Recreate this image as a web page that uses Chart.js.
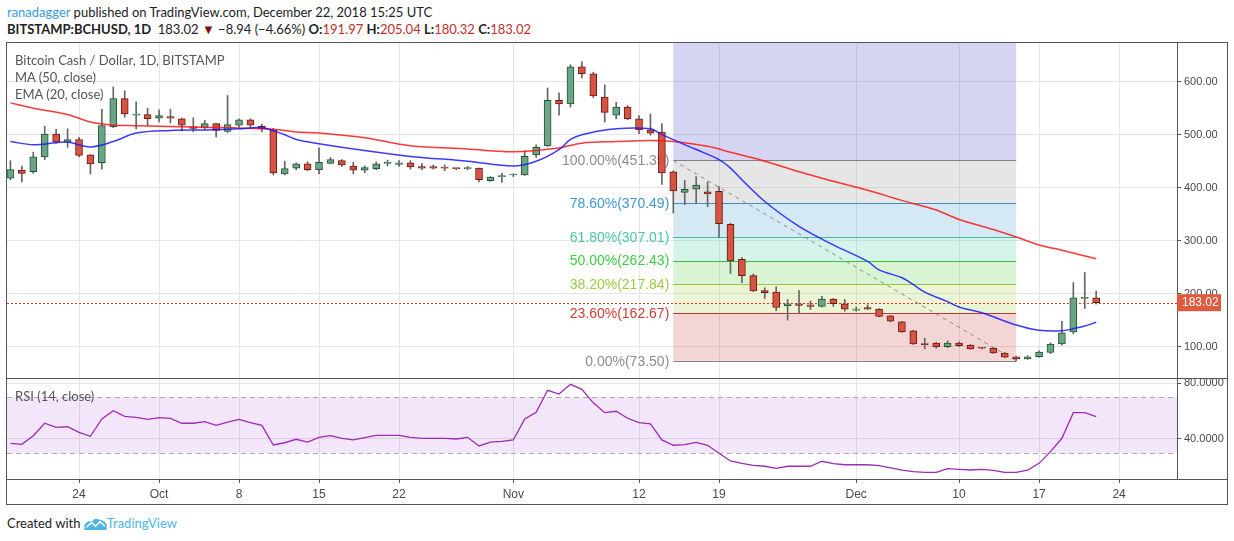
<!DOCTYPE html>
<html>
<head>
<meta charset="utf-8">
<script src="https://cdn.jsdelivr.net/npm/chart.js@4.4.1/dist/chart.umd.min.js"></script>
<style>
    body { margin: 0; width: 1234px; height: 541px; background: #fff; position: relative; overflow: hidden;
           font-family: Lato, "Liberation Sans", Arial, sans-serif; color: #222; }
    .abs { position: absolute; white-space: nowrap; }
    #frame { left: 6px; top: 42px; width: 1222px; height: 463px; box-sizing: border-box; border: 1px solid #555; }
    .sep { height: 1px; background: #555; left: 7px; width: 1220px; }
    .leg { color: #555; font-size: 13px; left: 15px; line-height: 17px; pointer-events: none; }
    .hd { font-size: 13px; left: 7px; line-height: 17px; }
    .red { color: #c0302a; }
    canvas { position: absolute; }
</style>
</head>
<body>
<div class="abs hd" style="top:4px"><span style="color:#3a9be0">ranadagger</span> published on TradingView.com, December 22, 2018 15:25 UTC</div>
<div class="abs hd" style="top:21px"><b>BITSTAMP:BCHUSD, 1D</b>&nbsp; 183.02 <span style="color:#8b0a0a">&#9660;</span> &minus;8.94 (&minus;4.66%) <b>O:</b><span class="red">191.97</span> <b>H:</b><span class="red">205.04</span> <b>L:</b><span class="red">180.32</span> <b>C:</b><span class="red">183.02</span></div>

<div id="frame" class="abs"></div>
<canvas id="mainChart" width="1220" height="335" style="left:7px;top:43px"></canvas>
<div class="abs sep" style="top:378px"></div>
<canvas id="rsiChart" width="1220" height="125" style="left:7px;top:379px"></canvas>
<div class="abs sep" style="top:479px"></div>

<div class="abs leg" style="top:52px">Bitcoin Cash / Dollar, 1D, BITSTAMP</div>
<div class="abs leg" style="top:69px">MA (50, close)</div>
<div class="abs leg" style="top:86px">EMA (20, close)</div>
<div class="abs leg" style="top:388px">RSI (14, close)</div>

<div class="abs" style="left:7px;top:514px;font-size:13px;line-height:18px">Created with
    <svg width="23" height="13" viewBox="0 0 24 14" style="vertical-align:-2px">
        <path d="M0 14 L0 9 Q3 3 8 5 Q11 0 16 3 Q21 3 24 8 L24 14 Z" fill="#4cb6e6"/>
        <path d="M2 11 L8 6 L12 10 L17 5 L22 10" stroke="#fff" stroke-width="1.6" fill="none"/>
    </svg><span style="color:#4cb6e6">TradingView</span></div>

<script>
// 日线 K 线 (2018-09-18 起, 共 96 根)
const opens  = [418,433,430,458,501,486,491,462,447,515,568,537,538,531,534,530,515,513,521,506,518,528,516,509,
                426,437,445,434,446,451,441,433,436,446,444,447,440,440,438,436.5,436,437,413,421,424,424,462,479,
                565,558,628,615,571,537,552,530,509,505,430,391,397,392,393,331,265,234,206,203,177,181,179,176,
                190,181,169,174,171,158,147,130,106,107,100,107,103,98,97,88,81,77,81,89,105,128,191,191.97];
const highs  = [451,441,467,516,510,511,495,462,548,590,583,562,550,547,548,532,532,527,521,574,530,530,520,512,
                450,447,449,475,457,453,448,441,449,452,451,451,446,443,443,437,440,437,421,427,426,470,481,588,
                579,632,638,618,594,561,555,536,539,521,432,414,421,411,402,333,268,237,211,213,189,206,186,195,
                191,189,175,179,172,159,148,131,116,108,111,109,104,99,98,89,82,83,92,107,148,221,240,205.04];
const lows   = [415,411,427,453,484,476,458,426,435,513,533,511,517,524,522,507,506,510,496,504,514,514,505,424,
                424,434,432,426,445,440,426,428,434,441,440,435,434,435,432,434,434,411,412,410,421,423,457,478,
                537,552,607,570,524,530,528,502,499,406,352,368,371,364,306,238,221,204,191,168,150,164,170,175,
                176,167,167,170,156,147,127,104,96,97,98,100,95,96,87,79,73.5,76,80,87,103,124,172,180.32];
const closes = [434,427,458,501,486,491,461,445,517,568,539,539,530,536,531,518,512,521,508,519,528,518,511,428,
                436,445,434,448,453,443,433,438,445,447,447,439,437,437,437,436,438,415,420,422,425,459,476,565,
                558,628,615,573,542,552,530,509,503,428,394,397,405,388,332,262,234,205,202,174,181,178,176,190,
                181,171,171,171,157,148,128,105,104,100,107,102,96,97,88,80,77,81,90,105,126,192,192,183.02];

// MA(50) / EMA(20) 曲线读数 (K 线序号, 价格)
const maIdx  = [0,2,5,7,9,11,17,22,24,25,27,31,35,40,44,48,50,53,56,58,61,63,66,69,72,75,78,81,83,86,88,90,92,95];
const maVal  = [560,550,538,524,518,517,514,511,508,505,503,494,479,473,468,475,484,487,489,487,478,467,450,430,
                412,395,376,358,340,321,307,292,282,266];
const emaIdx = [0,2,4,5,7,9,11,14,17,20,22,24,25,27,31,35,40,44,46,48,49,50,53,56,57,60,62,63,64,66,69,72,75,76,
                78,79,80,82,83,85,88,90,92,93,94,95];
const emaVal = [487,481,485,486,477,487,503,508,509,511,513,500,491,483,470,459,450,441,450,472,491,500,511,511,
                500,472,453,437,415,374,327,292,261,245,230,217,203,185,175,164,141,131,130,134,139,146];

// RSI(14)
const rsiVal = [36.9,36.2,42.4,51.3,48.4,48.8,44.8,41.9,54.4,60.3,56.3,55.6,54.1,55.3,54.8,51.3,51.3,52.4,49.8,
                52.2,54.1,51.7,49.8,35.7,37.3,39.8,37.8,41.2,42.4,40.5,39.3,40.9,42.6,42.6,42.6,41.2,40.5,40.5,
                40.5,40.0,41.2,35.0,37.8,38.3,39.3,54.4,59.2,75.0,72.3,79.3,75.7,66.0,58.9,59.9,54.9,51.7,50.8,
                39.3,35.5,35.9,37.6,35.5,29.7,24.2,22.5,21.1,20.4,18.9,20.4,20.4,20.4,24.0,22.3,21.5,21.5,21.5,
                20.8,19.2,17.7,16.5,16.0,16.0,18.7,18.2,17.7,18.2,17.5,16.0,16.0,17.7,22.5,30.9,40.5,58.9,58.9,56.0];
const rsiBand = [30, 70];

// 坐标轴刻度
const priceTicks = [100, 200, 300, 400, 500, 600];
const rsiTicks = [40, 80];
const dayTicks = [6, 13, 20, 27, 34, 44, 55, 62, 74, 83, 90, 97];
const dayLabels = ['24', 'Oct', '8', '15', '22', 'Nov', '12', '19', 'Dec', '10', '17', '24'];

// 斐波那契回撤
const fibRatios = [1, 0.786, 0.618, 0.5, 0.382, 0.236, 0];
const fibPrices = [451.35, 370.49, 307.01, 262.43, 217.84, 162.67, 73.50];
const fibFrom = 58, fibTo = 88;
const lastPrice = 183.02;

const fibFill = ['rgba(130,130,130,0.2)', 'rgba(45,145,200,0.2)', 'rgba(40,200,160,0.2)',
                 'rgba(65,200,35,0.2)', 'rgba(155,200,40,0.2)', 'rgba(200,45,45,0.2)'];
const fibLine = ['#808080', '#3d8fc6', '#3fb9a0', '#33c233', '#93c83a', '#c8372d', '#808080'];
const fibText = ['#8c8c8c', '#3d9ad1', '#4cc8a6', '#3fcc3f', '#9ccc44', '#d23c32', '#8c8c8c'];

const X_MIN = -0.3, X_MAX = 102.07;
const FONT = '"Liberation Sans", Arial, sans-serif';
Chart.defaults.font.family = FONT;
Chart.defaults.color = '#4a4a4a';

const upFill = '#6ba583', upLine = '#225437', dnFill = '#d75442', dnLine = '#6b1a12';
const isUp = i => closes[i] >= opens[i];

function fixWidth(s) { s.width = 50; s.paddingTop = 0; s.paddingBottom = 0; }

const fibPlugin = {
    id: 'fib',
    beforeDatasetsDraw(chart) {
        const { ctx, chartArea: a, scales: { x, y } } = chart;
        const x0 = x.getPixelForValue(fibFrom), x1 = x.getPixelForValue(fibTo);
        ctx.save();
        ctx.beginPath();
        ctx.rect(a.left, a.top, a.width, a.height);
        ctx.clip();

        ctx.fillStyle = 'rgba(45,45,195,0.2)';
        const yTop = y.getPixelForValue(fibPrices[0]);
        ctx.fillRect(x0, a.top, x1 - x0, yTop - a.top);
        for (let i = 0; i < fibPrices.length - 1; i++) {
            const ya = y.getPixelForValue(fibPrices[i]);
            const yb = y.getPixelForValue(fibPrices[i + 1]);
            ctx.fillStyle = fibFill[i];
            ctx.fillRect(x0, ya, x1 - x0, yb - ya);
        }
        ctx.lineWidth = 1;
        fibPrices.forEach((p, i) => {
            const yy = Math.round(y.getPixelForValue(p)) + 0.5;
            ctx.strokeStyle = fibLine[i];
            ctx.beginPath();
            ctx.moveTo(x0, yy);
            ctx.lineTo(x1, yy);
            ctx.stroke();
        });

        ctx.setLineDash([4, 4]);
        ctx.strokeStyle = '#8a8a8a';
        ctx.beginPath();
        ctx.moveTo(x0, y.getPixelForValue(fibPrices[0]));
        ctx.lineTo(x1, y.getPixelForValue(fibPrices[fibPrices.length - 1]));
        ctx.stroke();

        ctx.setLineDash([2, 2]);
        ctx.strokeStyle = '#e8311f';
        const yl = Math.round(y.getPixelForValue(lastPrice)) + 0.5;
        ctx.beginPath();
        ctx.moveTo(a.left, yl);
        ctx.lineTo(a.right, yl);
        ctx.stroke();
        ctx.setLineDash([]);

        ctx.font = '14px ' + FONT;
        ctx.textAlign = 'right';
        ctx.textBaseline = 'middle';
        fibPrices.forEach((p, i) => {
            ctx.fillStyle = fibText[i];
            ctx.fillText((fibRatios[i] * 100).toFixed(2) + '%(' + p.toFixed(2) + ')', x0 - 4, y.getPixelForValue(p) + 1);
        });
        ctx.restore();
    },
    afterDraw(chart) {
        const { ctx, scales: { y } } = chart;
        const yy = y.getPixelForValue(lastPrice);
        ctx.save();
        ctx.fillStyle = '#df5a3e';
        ctx.fillRect(y.left, yy - 8.5, 44, 17);
        ctx.fillStyle = '#fff';
        ctx.font = '12px ' + FONT;
        ctx.textAlign = 'left';
        ctx.textBaseline = 'middle';
        ctx.fillText(lastPrice.toFixed(2), y.left + 5, yy + 0.5);
        ctx.restore();
    }
};

const bandPlugin = {
    id: 'band',
    beforeDatasetsDraw(chart) {
        const { ctx, chartArea: a, scales: { y } } = chart;
        const yHi = y.getPixelForValue(rsiBand[1]), yLo = y.getPixelForValue(rsiBand[0]);
        ctx.save();
        ctx.fillStyle = 'rgba(135,5,215,0.1)';
        ctx.fillRect(a.left, yHi, a.width, yLo - yHi);
        ctx.strokeStyle = '#ababab';
        ctx.lineWidth = 1;
        ctx.setLineDash([5, 4]);
        [yHi, yLo].forEach(v => {
            ctx.beginPath();
            ctx.moveTo(a.left, Math.round(v) + 0.5);
            ctx.lineTo(a.right, Math.round(v) + 0.5);
            ctx.stroke();
        });
        ctx.restore();
    }
};

const gridX = {
    type: 'linear', min: X_MIN, max: X_MAX, offset: false,
    afterBuildTicks: s => { s.ticks = dayTicks.map(v => ({ value: v })); },
    grid: { color: '#e6e6e6', offset: false, drawTicks: false },
    border: { display: false },
    ticks: { display: false },
    afterFit: s => { s.height = 0; s.paddingLeft = 0; s.paddingRight = 0; }
};

const idx = opens.map((_, i) => i);

new Chart(document.getElementById('mainChart'), {
    type: 'bar',
    data: {
        datasets: [
            {
                type: 'line', label: 'EMA (20, close)', order: 0,
                data: emaIdx.map((v, i) => ({ x: v, y: emaVal[i] })),
                borderColor: 'rgba(25,25,255,0.85)', borderWidth: 1.5, pointRadius: 0, tension: 0.35
            },
            {
                type: 'line', label: 'MA (50, close)', order: 1,
                data: maIdx.map((v, i) => ({ x: v, y: maVal[i] })),
                borderColor: 'rgba(255,20,20,0.85)', borderWidth: 1.5, pointRadius: 0, tension: 0.35
            },
            {
                label: 'body', order: 2, grouped: false, barThickness: 7, minBarLength: 1,
                data: idx.map(i => ({ x: i, y: [opens[i], closes[i]] })),
                backgroundColor: idx.map(i => isUp(i) ? upFill : dnFill),
                borderColor: idx.map(i => isUp(i) ? upLine : dnLine),
                borderWidth: 1, borderSkipped: false
            },
            {
                label: 'wick', order: 3, grouped: false, barThickness: 1,
                data: idx.map(i => ({ x: i, y: [lows[i], highs[i]] })),
                backgroundColor: '#666'
            }
        ]
    },
    options: {
        responsive: false, animation: false, devicePixelRatio: 1,
        layout: { padding: 0 },
        plugins: { legend: { display: false }, tooltip: { enabled: false } },
        scales: {
            x: gridX,
            y: {
                position: 'right', min: 40.9, max: 673,
                afterBuildTicks: s => { s.ticks = priceTicks.map(v => ({ value: v })); },
                ticks: { callback: v => v.toFixed(2), font: { size: 11 }, padding: 3, color: '#4a4a4a' },
                grid: { color: '#e6e6e6', tickColor: '#555', tickLength: 4 },
                border: { display: true, color: '#555' },
                afterFit: fixWidth
            }
        }
    },
    plugins: [fibPlugin]
});

new Chart(document.getElementById('rsiChart'), {
    type: 'line',
    data: {
        datasets: [{
            label: 'RSI (14, close)',
            data: rsiVal.map((v, i) => ({ x: i, y: v })),
            borderColor: '#9c2bb5', borderWidth: 1.3, pointRadius: 0, tension: 0
        }]
    },
    options: {
        responsive: false, animation: false, devicePixelRatio: 1,
        layout: { padding: 0 },
        plugins: { legend: { display: false }, tooltip: { enabled: false } },
        scales: {
            x: {
                ...gridX,
                grid: { color: '#e6e6e6', offset: false, drawTicks: true, tickLength: 4, tickColor: '#555' },
                border: { display: true, color: '#555' },
                ticks: {
                    display: true, maxRotation: 0, autoSkip: false, padding: 4,
                    font: { size: 12 }, color: '#4a4a4a',
                    callback: v => dayLabels[dayTicks.indexOf(v)]
                },
                afterFit: s => { s.height = 25; s.paddingLeft = 0; s.paddingRight = 0; }
            },
            y: {
                position: 'right', min: 11.25, max: 83.1,
                afterBuildTicks: s => { s.ticks = rsiTicks.map(v => ({ value: v })); },
                ticks: { callback: v => v.toFixed(4), font: { size: 11 }, padding: 3, color: '#4a4a4a' },
                grid: { color: '#e6e6e6', tickColor: '#555', tickLength: 4 },
                border: { display: true, color: '#555' },
                afterFit: fixWidth
            }
        }
    },
    plugins: [bandPlugin]
});
</script>
</body>
</html>
